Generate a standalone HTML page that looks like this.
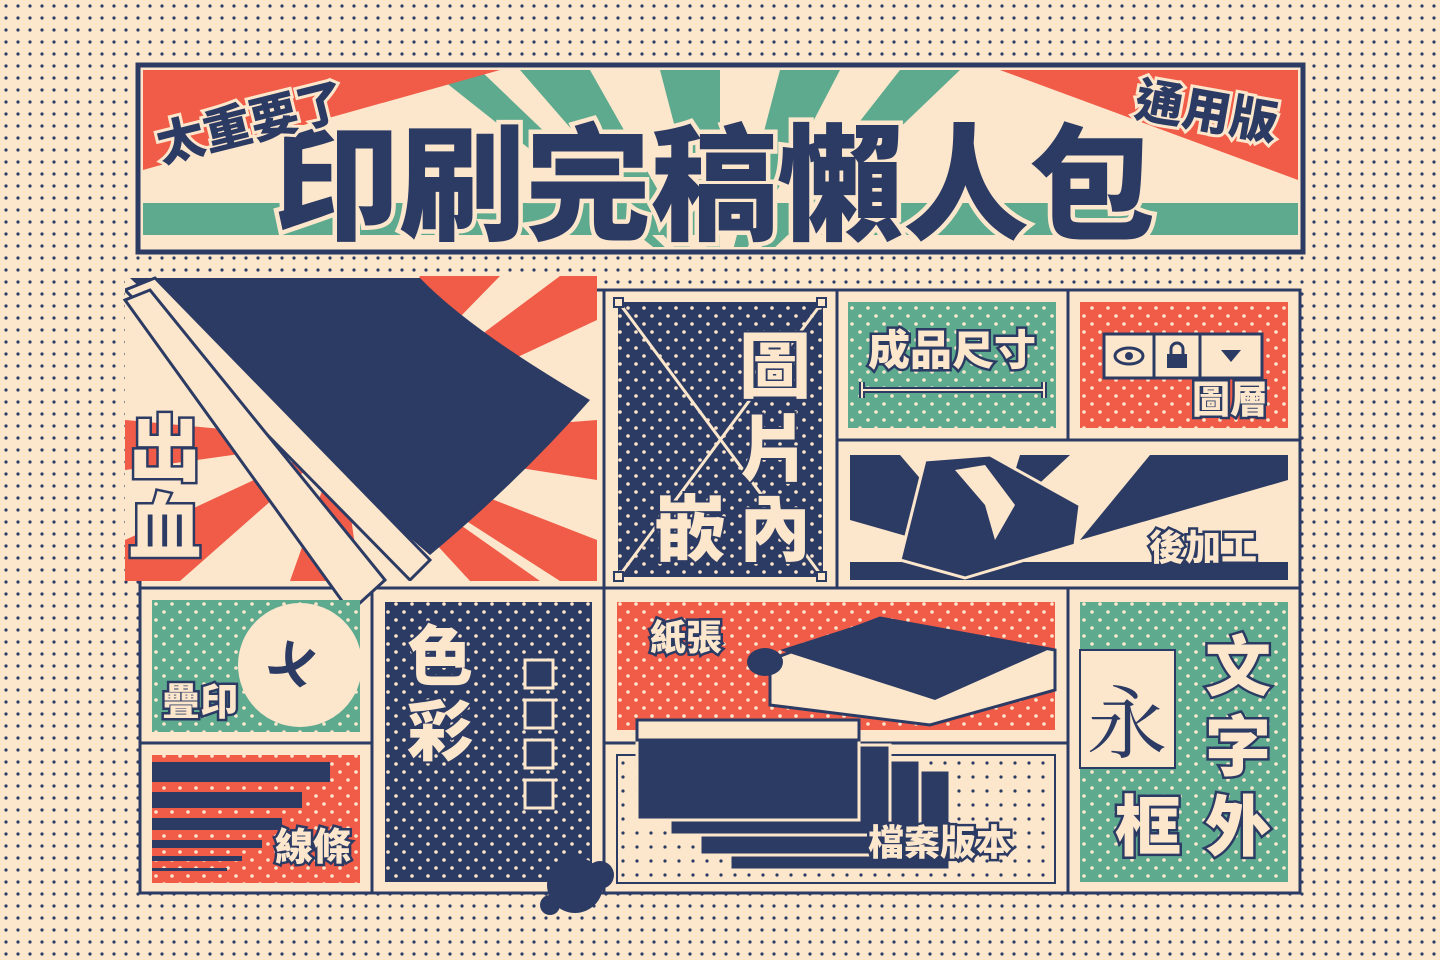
<!DOCTYPE html>
<html><head><meta charset="utf-8"><style>
html,body{margin:0;padding:0;width:1440px;height:960px;overflow:hidden;background:#FDE7CC}
svg{display:block}
text{font-family:"Liberation Sans","Noto Sans CJK TC",sans-serif;font-weight:900}
</style></head><body>
<svg width="1440" height="960" viewBox="0 0 1440 960" xmlns="http://www.w3.org/2000/svg">
<defs>
<pattern id="bgdots" width="12" height="12" patternUnits="userSpaceOnUse"><rect width="12" height="12" fill="#FDE7CC"/><circle cx="6" cy="6" r="1.6" fill="#2C3B64"/></pattern>
<pattern id="navydots" width="16" height="16" patternUnits="userSpaceOnUse"><rect width="16" height="16" fill="#2C3B64"/><circle cx="4" cy="4" r="1.8" fill="#FDE7CC"/><circle cx="12" cy="12" r="1.8" fill="#FDE7CC"/></pattern>
<pattern id="tealdots" width="16" height="16" patternUnits="userSpaceOnUse"><rect width="16" height="16" fill="#5EAA8F"/><circle cx="4" cy="4" r="1.8" fill="#FDE7CC"/><circle cx="12" cy="12" r="1.8" fill="#FDE7CC"/></pattern>
<pattern id="reddots" width="16" height="16" patternUnits="userSpaceOnUse"><rect width="16" height="16" fill="#F15C48"/><circle cx="4" cy="4" r="1.8" fill="#FDE7CC"/><circle cx="12" cy="12" r="1.8" fill="#FDE7CC"/></pattern>
<pattern id="creamdots" width="14" height="14" patternUnits="userSpaceOnUse"><rect width="14" height="14" fill="#FDE7CC"/><circle cx="7" cy="7" r="1.6" fill="#2C3B64"/></pattern>
<clipPath id="hdr"><rect x="143" y="70" width="1155" height="177"/></clipPath>
<clipPath id="bleed"><rect x="125" y="276" width="472" height="305"/></clipPath>
<clipPath id="post"><rect x="850" y="452" width="438" height="128"/></clipPath>
</defs>
<rect width="1440" height="960" fill="url(#bgdots)"/>

<!-- HEADER -->
<g>
<rect x="138" y="65" width="1165" height="187" fill="#FDE7CC" stroke="#2C3B64" stroke-width="5"/>
<g clip-path="url(#hdr)">
<rect x="143" y="70" width="1155" height="177" fill="#FDE7CC"/>
<g fill="#5EAA8F">
<polygon points="720,300 520,70 590,70"/><polygon points="720,300 660,70 720,70"/><polygon points="720,300 780,70 840,70"/>
<polygon points="720,300 900,70 960,70"/><polygon points="720,300 430,70 480,70"/>
</g>
<polygon points="143,70 500,70 143,170" fill="#F15C48"/>
<polygon points="1000,70 1298,70 1298,180" fill="#F15C48"/>
<rect x="143" y="203" width="1155" height="32" fill="#5EAA8F"/>
</g>
<text x="714" y="230" font-size="126" text-anchor="middle" fill="#2C3B64" stroke="#FDE7CC" stroke-width="9" paint-order="stroke">印刷完稿懶人包</text>
<text x="250" y="140" font-size="48" text-anchor="middle" fill="#2C3B64" stroke="#FDE7CC" stroke-width="6" paint-order="stroke" transform="rotate(-14 250 120)">太重要了</text>
<text x="1207" y="128" font-size="48" text-anchor="middle" fill="#2C3B64" stroke="#FDE7CC" stroke-width="6" paint-order="stroke" transform="rotate(10 1205 110)">通用版</text>
</g>

<!-- GRID FRAME -->
<g fill="#FDE7CC" stroke="#2C3B64" stroke-width="3">
<rect x="140" y="290" width="1160" height="603"/>
</g>
<g stroke="#2C3B64" stroke-width="3" fill="none">
<line x1="604" y1="290" x2="604" y2="893"/><line x1="837" y1="290" x2="837" y2="588"/><line x1="1068" y1="290" x2="1068" y2="440"/>
<line x1="837" y1="440" x2="1300" y2="440"/><line x1="140" y1="588" x2="1300" y2="588"/>
<line x1="372" y1="588" x2="372" y2="893"/><line x1="1068" y1="588" x2="1068" y2="893"/>
<line x1="140" y1="743" x2="372" y2="743"/><line x1="604" y1="743" x2="1068" y2="743"/>
</g>

<!-- BLEED -->
<g>
<g clip-path="url(#bleed)">
<rect x="125" y="276" width="472" height="305" fill="#FDE7CC"/>
<g fill="#F15C48">
<polygon points="340,440 420,276 500,276"/><polygon points="340,440 560,276 597,276 597,320"/>
<polygon points="340,440 597,420 597,480"/><polygon points="340,440 597,540 597,581 560,581"/>
<polygon points="340,440 470,581 540,581"/><polygon points="340,440 125,420 125,470"/>
<polygon points="340,440 125,540 125,581 180,581"/><polygon points="340,440 290,581 360,581"/>
</g>
<path d="M130,278 L420,278 Q470,330 590,400 Q520,480 430,555 Q330,470 130,278 Z" fill="#2C3B64"/>
<polygon points="125,290 155,278 430,560 410,580" fill="#FDE7CC" stroke="#2C3B64" stroke-width="3"/>
</g>
<polygon points="125,300 150,290 385,580 350,612" fill="#FDE7CC" stroke="#2C3B64" stroke-width="3"/>
<text x="165" y="475" font-size="72" text-anchor="middle" fill="#FDE7CC" stroke="#2C3B64" stroke-width="5" paint-order="stroke">出</text>
<text x="165" y="553" font-size="72" text-anchor="middle" fill="#FDE7CC" stroke="#2C3B64" stroke-width="5" paint-order="stroke">血</text>
</g>

<!-- IMAGE EMBED -->
<g>
<rect x="618" y="302" width="205" height="275" fill="url(#navydots)"/>
<line x1="620" y1="304" x2="821" y2="575" stroke="#FDE7CC" stroke-width="3"/>
<line x1="821" y1="304" x2="620" y2="575" stroke="#FDE7CC" stroke-width="3"/>
<g fill="#FDE7CC" stroke="#2C3B64" stroke-width="2"><rect x="614" y="298" width="9" height="9"/><rect x="817" y="298" width="9" height="9"/><rect x="614" y="572" width="9" height="9"/><rect x="817" y="572" width="9" height="9"/></g>
<g font-size="72" fill="#FDE7CC" stroke="#2C3B64" stroke-width="4" paint-order="stroke" text-anchor="middle">
<text x="775" y="392">圖</text><text x="775" y="475">片</text><text x="775" y="555">內</text><text x="690" y="555">嵌</text>
</g></g>

<!-- FINISHED SIZE -->
<g>
<rect x="848" y="302" width="208" height="126" fill="url(#tealdots)"/>
<text x="952" y="365" font-size="42" text-anchor="middle" fill="#FDE7CC" stroke="#2C3B64" stroke-width="5" paint-order="stroke">成品尺寸</text>
<g stroke="#2C3B64" stroke-width="6"><line x1="862" y1="390" x2="1044" y2="390"/><line x1="862" y1="382" x2="862" y2="398"/><line x1="1044" y1="382" x2="1044" y2="398"/></g>
<g stroke="#FDE7CC" stroke-width="2"><line x1="862" y1="390" x2="1044" y2="390"/><line x1="862" y1="382" x2="862" y2="398"/><line x1="1044" y1="382" x2="1044" y2="398"/></g>
</g>

<!-- LAYERS -->
<g>
<rect x="1080" y="302" width="208" height="126" fill="url(#reddots)"/>
<g fill="#FDE7CC" stroke="#2C3B64" stroke-width="3"><rect x="1104" y="334" width="50" height="44"/><rect x="1154" y="334" width="46" height="44"/><rect x="1200" y="334" width="62" height="44"/></g>
<ellipse cx="1129" cy="356" rx="14" ry="8" fill="none" stroke="#2C3B64" stroke-width="3"/><circle cx="1129" cy="356" r="4" fill="#2C3B64"/>
<rect x="1167" y="354" width="20" height="14" fill="#2C3B64"/><path d="M1171,355 v-6 a6,6 0 0 1 12,0 v6" fill="none" stroke="#2C3B64" stroke-width="3"/>
<polygon points="1221,350 1241,350 1231,362" fill="#2C3B64"/>
<text x="1230" y="413" font-size="38" text-anchor="middle" fill="#FDE7CC" stroke="#2C3B64" stroke-width="5" paint-order="stroke">圖層</text>
</g>

<!-- POST PROCESS -->
<g>
<g clip-path="url(#post)">
<rect x="850" y="452" width="438" height="128" fill="#FDE7CC"/>
<g fill="#2C3B64">
<polygon points="850,455 900,455 990,560 850,520"/><polygon points="1020,455 1070,455 1000,520"/>
<polygon points="1150,455 1288,455 1288,480 1080,540"/><rect x="850" y="562" width="438" height="20"/>
</g>
<polygon points="925,460 990,455 1080,505 1075,545 965,578 900,560" fill="#2C3B64" stroke="#FDE7CC" stroke-width="3"/>
<polygon points="955,470 985,465 1015,505 995,540 985,505" fill="#FDE7CC"/>
</g>
<text x="1203" y="560" font-size="36" text-anchor="middle" fill="#FDE7CC" stroke="#2C3B64" stroke-width="5" paint-order="stroke">後加工</text>
</g>

<!-- OVERPRINT -->
<g>
<rect x="152" y="600" width="208" height="132" fill="url(#tealdots)"/>
<circle cx="300" cy="665" r="62" fill="#FDE7CC"/>
<text x="270" y="668" font-size="44" fill="#2C3B64" transform="rotate(25 270 660)">乂</text>
<text x="200" y="715" font-size="38" text-anchor="middle" fill="#FDE7CC" stroke="#2C3B64" stroke-width="5" paint-order="stroke">疊印</text>
</g>

<!-- LINES -->
<g>
<rect x="152" y="755" width="208" height="128" fill="url(#reddots)"/>
<g fill="#2C3B64"><rect x="152" y="762" width="178" height="20"/><rect x="152" y="792" width="150" height="16"/><rect x="152" y="818" width="130" height="12"/><rect x="152" y="840" width="110" height="8"/><rect x="152" y="856" width="90" height="5"/><rect x="152" y="868" width="75" height="3"/></g>
<text x="313" y="860" font-size="38" text-anchor="middle" fill="#FDE7CC" stroke="#2C3B64" stroke-width="5" paint-order="stroke">線條</text>
</g>

<!-- COLOR -->
<g>
<rect x="385" y="602" width="207" height="280" fill="url(#navydots)"/>
<text x="440" y="680" font-size="66" text-anchor="middle" fill="#FDE7CC" stroke="#2C3B64" stroke-width="4" paint-order="stroke">色</text>
<text x="440" y="755" font-size="66" text-anchor="middle" fill="#FDE7CC" stroke="#2C3B64" stroke-width="4" paint-order="stroke">彩</text>
<g fill="#2C3B64" stroke="#FDE7CC" stroke-width="3"><rect x="525" y="660" width="28" height="28"/><rect x="525" y="700" width="28" height="28"/><rect x="525" y="740" width="28" height="28"/><rect x="525" y="780" width="28" height="28"/></g>
<circle cx="575" cy="885" r="28" fill="#2C3B64"/><circle cx="600" cy="875" r="14" fill="#2C3B64"/><circle cx="550" cy="905" r="10" fill="#2C3B64"/>
</g>

<!-- PAPER -->
<g>
<rect x="617" y="602" width="438" height="128" fill="url(#reddots)"/>
<polygon points="770,660 880,618 1055,650 1055,690 930,725 770,705" fill="#FDE7CC" stroke="#2C3B64" stroke-width="3"/>
<polygon points="780,650 880,618 1052,648 935,700" fill="#2C3B64"/>
<ellipse cx="765" cy="662" rx="18" ry="14" fill="#2C3B64"/>
<text x="686" y="650" font-size="36" text-anchor="middle" fill="#FDE7CC" stroke="#2C3B64" stroke-width="5" paint-order="stroke">紙張</text>
</g>

<!-- FILE VERSION -->
<g>
<rect x="617" y="755" width="438" height="128" fill="url(#creamdots)" stroke="#2C3B64" stroke-width="2"/>
<g fill="#2C3B64" stroke="#FDE7CC" stroke-width="3">
<rect x="730" y="770" width="220" height="100"/><rect x="700" y="760" width="220" height="95"/><rect x="670" y="745" width="220" height="90"/>
<rect x="637" y="720" width="222" height="100"/>
</g>
<rect x="637" y="720" width="222" height="20" fill="#FDE7CC" stroke="#2C3B64" stroke-width="3"/>
<text x="940" y="855" font-size="36" text-anchor="middle" fill="#FDE7CC" stroke="#2C3B64" stroke-width="5" paint-order="stroke">檔案版本</text>
</g>

<!-- TEXT OUTLINE -->
<g>
<rect x="1080" y="602" width="208" height="280" fill="url(#tealdots)"/>
<rect x="1080" y="650" width="95" height="118" fill="#FDE7CC" stroke="#2C3B64" stroke-width="2"/>
<text x="1127" y="752" font-size="80" text-anchor="middle" fill="#2C3B64" style="font-family:'Noto Serif CJK SC',serif;font-weight:400">永</text>
<g font-size="66" fill="#FDE7CC" stroke="#2C3B64" stroke-width="5" paint-order="stroke" text-anchor="middle">
<text x="1238" y="690">文</text><text x="1238" y="770">字</text><text x="1238" y="850">外</text><text x="1148" y="850">框</text>
</g></g>
</svg>
</body></html>
